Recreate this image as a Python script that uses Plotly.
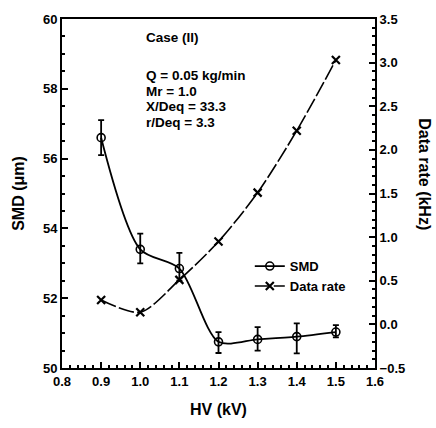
import plotly.graph_objects as go

hv = [0.9, 1.0, 1.1, 1.2, 1.3, 1.4, 1.5]
smd = [56.6, 53.4, 52.85, 50.75, 50.82, 50.9, 51.03]
smd_err_plus = [0.5, 0.45, 0.45, 0.28, 0.35, 0.38, 0.2]
smd_err_minus = [0.5, 0.4, 0.35, 0.32, 0.32, 0.48, 0.15]
data_rate = [0.28, 0.14, 0.51, 0.95, 1.51, 2.22, 3.03]

FAM = "Liberation Sans, Arial, sans-serif"
tickf = dict(family=FAM, size=13, color="black", weight="bold")
titlef = dict(family=FAM, size=16, color="black", weight="bold")

fig = go.Figure()
fig.add_trace(go.Scatter(
    x=hv, y=smd, name="SMD", mode="lines+markers",
    line=dict(color="black", width=1.8, shape="spline", smoothing=0.8),
    marker=dict(symbol="circle-open", size=8, color="black", line=dict(width=1.6)),
    error_y=dict(type="data", array=smd_err_plus, arrayminus=smd_err_minus,
                 color="black", thickness=1.8, width=3),
    yaxis="y",
))
fig.add_trace(go.Scatter(
    x=hv, y=data_rate, name="Data rate", mode="lines+markers",
    line=dict(color="black", width=1.6, shape="spline", smoothing=0.8, dash="16px,3px"),
    marker=dict(symbol="x-thin-open", size=8, color="black", line=dict(width=2.2, color="black")),
    yaxis="y2",
))

annots = [
    ("Case (II)", 34),
    ("Q = 0.05 kg/min", 72),
    ("Mr = 1.0", 88),
    ("X/Deq = 33.3", 104),
    ("r/Deq = 3.3", 120),
]
for txt, ypix in annots:
    fig.add_annotation(
        x=(144 - 62) / 313, y=1 - (ypix - 15) / 353, xref="paper", yref="paper",
        text=txt, showarrow=False, xanchor="left", yanchor="middle",
        font=dict(family=FAM, size=13.5, color="black", weight="bold"),
    )

# right axis title, rotated clockwise as in the reference
fig.add_annotation(
    x=(425 - 62) / 313, y=1 - (172 - 15) / 353, xref="paper", yref="paper",
    text="Data rate (kHz)", showarrow=False, textangle=90,
    xanchor="center", yanchor="middle", font=titlef,
)

fig.update_layout(
    width=436, height=428,
    margin=dict(l=62, r=61, t=15, b=60),
    paper_bgcolor="white", plot_bgcolor="white",
    showlegend=True,
    legend=dict(x=0.6, y=0.335, xanchor="left", yanchor="top", bgcolor="rgba(0,0,0,0)",
                font=dict(family=FAM, size=13, color="black", weight="bold"),
                tracegroupgap=2),
    xaxis=dict(
        range=[0.8, 1.6], dtick=0.1, tickformat=".1f",
        showline=True, linecolor="black", linewidth=2, mirror=True,
        ticks="inside", ticklen=6, tickwidth=1.5, tickcolor="black",
        minor=dict(dtick=0.02, ticks="inside", ticklen=3, tickcolor="black"),
        showgrid=False, zeroline=False, tickfont=tickf,
        title=dict(text="HV (kV)", font=titlef, standoff=16),
    ),
    yaxis=dict(
        range=[50, 60], dtick=2,
        showline=True, linecolor="black", linewidth=2,
        ticks="inside", ticklen=6, tickwidth=1.5, tickcolor="black",
        minor=dict(dtick=0.5, ticks="inside", ticklen=3, tickcolor="black"),
        showgrid=False, zeroline=False, tickfont=tickf,
        title=dict(text="SMD (μm)", font=titlef, standoff=14),
    ),
    yaxis2=dict(
        range=[-0.5, 3.5], dtick=0.5, tickformat=".1f", overlaying="y", side="right",
        showline=True, linecolor="black", linewidth=2,
        ticks="inside", ticklen=6, tickwidth=1.5, tickcolor="black",
        minor=dict(dtick=0.1, ticks="inside", ticklen=3, tickcolor="black"),
        showgrid=False, zeroline=False, tickfont=tickf,
    ),
)

fig.write_html("out.html")
